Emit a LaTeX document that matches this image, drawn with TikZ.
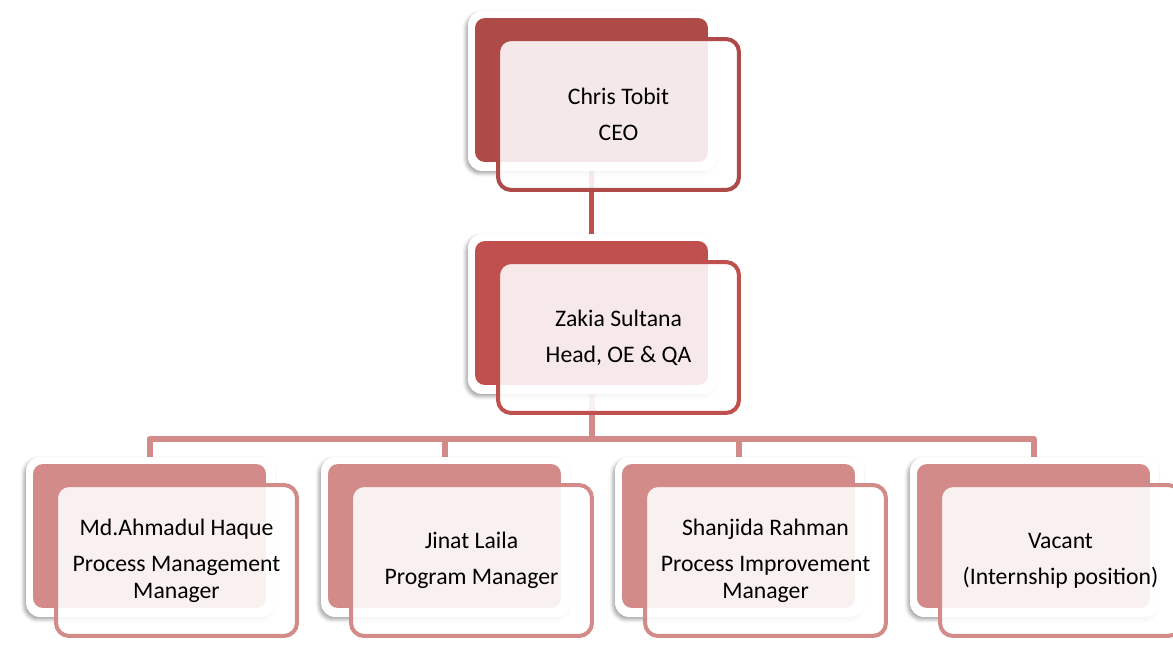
\documentclass[tikz,border=0pt]{standalone}
\usepackage{fontspec}
\setmainfont{Carlito}
\usetikzlibrary{backgrounds,shadows.blur}

% Colours per level of the chart
\definecolor{ceored}{HTML}{AE4A47}
\definecolor{headred}{HTML}{C0504D}
\definecolor{staffrose}{HTML}{D38B89}

\newcommand{\unitfont}{\fontsize{13.5}{15.4}\selectfont}

% #1 name, #2/#3 top-left corner of the solid card, #4 colour, #5 text
\newcommand{\orgunit}[5]{%
  \node[unitframe] (#1-frame) at (#2+117.5, #3+73) {};
  \node[unitback=#4] (#1) at (#2+116.5, #3+72) {};
  \node[unitfront=#4] (#1-f) at (#2+143.5, #3+96.5) {#5};
}

\begin{document}
\begin{tikzpicture}[
  x=0.02cm, y=-0.02cm,
  % Node styles
  unitframe/.style={rectangle, rounded corners=0.28cm, fill=white,
    minimum width=4.98cm, minimum height=3.2cm, inner sep=0pt,
    blur shadow={shadow xshift=-1.2pt, shadow yshift=-1.5pt,
      shadow blur radius=2pt, shadow opacity=35}},
  unitback/.style={rectangle, rounded corners=0.2cm, fill=#1,
    minimum width=4.66cm, minimum height=2.88cm, inner sep=0pt},
  unitfront/.style={rectangle, rounded corners=0.26cm, draw=#1,
    line width=0.08cm, fill=white, fill opacity=0.88, text opacity=1,
    minimum width=4.82cm, minimum height=3.02cm, inner sep=0pt,
    align=center, font=\unitfont},
  linkB/.style={draw=headred, line width=0.11cm},
  linkC/.style={draw=staffrose, line width=0.12cm, line join=round},
]
\useasboundingbox (0,0) rectangle (1173,662);

% === Level 1 ===
\orgunit{ceo}{475}{18}{ceored}{Chris Tobit\\[5pt]CEO}

% === Level 2 ===
\orgunit{head}{475}{241}{headred}{Zakia Sultana\\[5pt]Head, OE \& QA}

% === Level 3 ===
\orgunit{pm}{33}{464}{staffrose}{Md.Ahmadul Haque\\[5pt]Process Management\\Manager}
\orgunit{prog}{328}{464}{staffrose}{Jinat Laila\\[5pt]Program Manager}
\orgunit{pi}{622}{464}{staffrose}{Shanjida Rahman\\[5pt]Process Improvement\\Manager}
\orgunit{vac}{917}{464}{staffrose}{Vacant\\[5pt](Internship position)}

% === Connectors, behind the cards ===
\begin{scope}[on background layer]
  \draw[linkB] (ceo.center) -- (head.center);
  \coordinate (bus) at (591.5,439);
  \draw[linkC] (head.center) -- (bus);
  \foreach \n in {pm,prog,pi,vac}
    \draw[linkC] (bus) -| (\n.center);
\end{scope}

\end{tikzpicture}
\end{document}
